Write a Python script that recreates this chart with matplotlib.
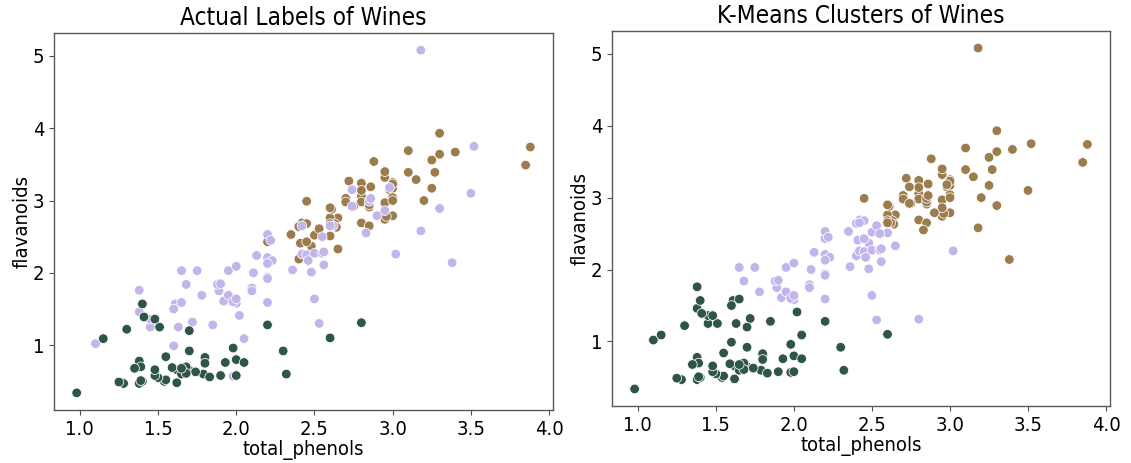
import numpy as np
import matplotlib
matplotlib.use('Agg')
import matplotlib.pyplot as plt

# wine data: total_phenols / flavanoids, in row order
total_phenols = [
    2.8, 2.65, 2.8, 3.85, 2.8, 3.27, 2.5, 2.6, 2.8, 2.98,
    2.95, 2.2, 2.6, 3.1, 3.3, 2.85, 2.8, 2.95, 3.3, 2.7,
    3.0, 2.41, 2.61, 2.48, 2.53, 2.63, 2.85, 2.4, 2.95, 2.65,
    3.0, 2.86, 2.42, 2.95, 2.35, 2.7, 2.6, 2.45, 2.4, 3.0,
    3.15, 2.45, 3.25, 2.64, 3.0, 2.85, 3.25, 3.1, 2.75, 2.88,
    2.72, 2.45, 3.88, 3.0, 2.6, 2.96, 3.2, 3.0, 3.4,
    1.98, 2.05, 2.02, 2.1, 3.5, 1.89, 2.42, 2.98, 2.11, 2.53,
    1.85, 1.1, 2.95, 1.88, 3.3, 3.38, 1.61, 1.95, 1.72, 1.9,
    2.83, 2.42, 2.2, 2.0, 1.65, 2.2, 2.2, 1.78, 1.92, 1.95,
    2.2, 1.6, 1.45, 1.38, 2.45, 3.02, 2.5, 1.6, 2.55, 3.52,
    2.85, 2.23, 1.45, 2.56, 2.5, 2.2, 1.68, 1.65, 1.38, 2.36,
    2.74, 3.18, 2.55, 1.75, 2.48, 2.56, 2.46, 1.98, 2.0, 1.63,
    2.0, 2.9, 3.18, 2.2, 2.62, 2.86, 2.6, 2.74, 2.13, 2.22,
    2.1,
    1.51, 1.3, 1.15, 1.7, 2.0, 1.62, 1.38, 1.79, 1.62, 2.32,
    1.54, 1.4, 1.55, 2.0, 1.38, 1.5, 0.98, 1.7, 1.93, 1.41,
    1.4, 1.48, 2.2, 1.8, 1.48, 1.74, 1.8, 1.9, 2.8, 2.6,
    2.3, 1.83, 1.65, 1.39, 1.35, 1.28, 1.7, 1.48, 1.55, 1.98,
    1.25, 1.39, 1.68, 1.68, 1.8, 1.59, 1.65, 2.05,
]
flavanoids = [
    3.06, 2.76, 3.24, 3.49, 2.69, 3.39, 2.52, 2.51, 2.98, 3.15,
    3.32, 2.43, 2.76, 3.69, 3.64, 2.91, 3.14, 3.4, 3.93, 3.03,
    3.17, 2.41, 2.88, 2.37, 2.61, 2.68, 2.94, 2.19, 2.97, 2.33,
    3.25, 3.19, 2.69, 2.74, 2.53, 2.98, 2.68, 2.43, 2.64, 3.04,
    3.29, 2.68, 3.56, 2.63, 3.0, 2.65, 3.17, 3.39, 2.92, 3.54,
    3.27, 2.99, 3.74, 2.79, 2.9, 2.78, 3.0, 3.23, 3.67,
    0.57, 1.09, 1.41, 1.79, 3.1, 1.75, 2.65, 3.18, 2.0, 1.3,
    1.28, 1.02, 2.86, 1.84, 2.89, 2.14, 1.57, 2.03, 1.32, 1.85,
    2.55, 2.26, 2.53, 1.58, 1.59, 2.21, 1.94, 1.69, 1.61, 1.69,
    1.59, 1.5, 1.25, 1.46, 2.25, 2.26, 2.27, 0.99, 2.5, 3.75,
    2.99, 2.17, 1.36, 2.11, 1.64, 1.92, 1.84, 2.03, 1.76, 2.04,
    2.92, 2.58, 2.27, 2.03, 2.01, 2.29, 2.17, 1.6, 2.09, 1.25,
    1.64, 2.79, 5.08, 2.13, 2.65, 3.03, 2.65, 3.15, 2.24, 2.45,
    1.75,
    1.25, 1.22, 1.09, 1.2, 0.58, 0.66, 0.47, 0.6, 0.48, 0.6,
    0.5, 0.5, 0.52, 0.8, 0.78, 0.55, 0.34, 0.65, 0.76, 1.39,
    1.57, 1.36, 1.28, 0.83, 0.58, 0.63, 0.83, 0.58, 1.31, 1.1,
    0.92, 0.56, 0.6, 0.7, 0.68, 0.47, 0.92, 0.66, 0.84, 0.96,
    0.49, 0.51, 0.7, 0.61, 0.75, 0.69, 0.68, 0.76,
]

# 0 = brown group, 1 = lavender group, 2 = dark green group
actual_labels = [0] * 59 + [1] * 71 + [2] * 48
kmeans_labels = [
    0, 0, 0, 0, 0, 0, 1, 1, 0, 0,
    0, 1, 0, 0, 0, 0, 0, 0, 0, 0,
    0, 1, 0, 1, 1, 0, 0, 1, 0, 1,
    0, 0, 1, 0, 1, 0, 0, 1, 1, 0,
    0, 1, 0, 0, 0, 0, 0, 0, 0, 0,
    0, 0, 0, 0, 0, 0, 0, 0, 0,
    2, 2, 2, 1, 0, 1, 1, 0, 1, 1,
    2, 2, 0, 1, 0, 0, 2, 1, 2, 1,
    0, 1, 1, 1, 2, 1, 1, 1, 1, 1,
    1, 2, 2, 2, 1, 1, 1, 2, 1, 0,
    0, 1, 2, 1, 1, 1, 1, 1, 2, 1,
    0, 0, 1, 1, 1, 1, 1, 1, 1, 2,
    1, 0, 0, 1, 0, 0, 0, 0, 1, 1,
    1,
    2, 2, 2, 2, 2, 2, 2, 2, 2, 2,
    2, 2, 2, 2, 2, 2, 2, 2, 2, 2,
    2, 2, 2, 2, 2, 2, 2, 2, 1, 2,
    2, 2, 2, 2, 2, 2, 2, 2, 2, 2,
    2, 2, 2, 2, 2, 2, 2, 2,
]

titles = ['Actual Labels of Wines', 'K-Means Clusters of Wines']
palette = np.array(['#9c7b4d', '#c2b5ec', '#2f5448'])  # brown, lavender, dark green

plt.rcParams['font.family'] = ['DejaVu Sans']
plt.rcParams['font.stretch'] = 'condensed'

fig = plt.figure(figsize=(11.31, 4.63), dpi=100)
ax_left = fig.add_axes([54 / 1131, 53 / 463, 499 / 1131, 377 / 463])
ax_right = fig.add_axes([612 / 1131, 57 / 463, 498 / 1131, 375 / 463])

for ax, labels, title in zip([ax_left, ax_right], [actual_labels, kmeans_labels], titles):
    ax.scatter(total_phenols, flavanoids, c=palette[np.array(labels)], s=48,
               edgecolors='white', linewidths=0.55)
    ax.set_title(title, fontsize=17.5)
    ax.set_xlabel('total_phenols', fontsize=14.5, labelpad=1)
    ax.set_ylabel('flavanoids', fontsize=14.5, labelpad=1)
    ax.set_xticks([1.0, 1.5, 2.0, 2.5, 3.0, 3.5, 4.0])
    ax.set_yticks([1, 2, 3, 4, 5])
    ax.tick_params(labelsize=14.5, length=3.5, width=0.8, color='0.3')
    for side in ax.spines.values():
        side.set_color('0.35')
        side.set_linewidth(1.0)
    ax.margins(0.05)

fig.savefig('out.png', dpi=100)
